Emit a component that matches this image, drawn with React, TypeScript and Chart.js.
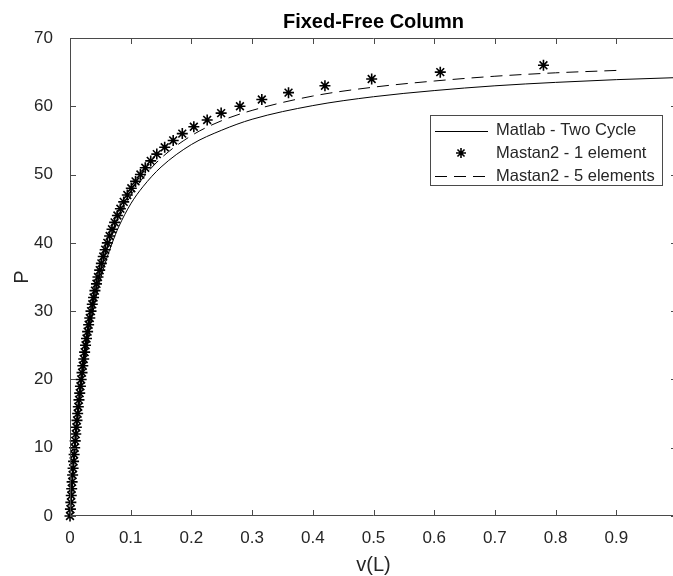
import React, { useEffect, useRef } from 'react';
import { Chart, registerables } from 'chart.js';

Chart.register(...registerables);

// ---------- data ----------
const titleText = 'Fixed-Free Column';
const xAxisLabel = 'v(L)';
const yAxisLabel = 'P';
const seriesNames = ['Matlab - Two Cycle', 'Mastan2 - 1 element', 'Mastan2 - 5 elements'];

// Matlab - Two Cycle (solid line)
const matlabDeflection = [0, 0.002, 0.005, 0.01, 0.015, 0.02, 0.03, 0.04, 0.05, 0.06, 0.07, 0.08, 0.1, 0.12, 0.15, 0.2, 0.25, 0.3, 0.4, 0.5, 0.6, 0.7, 0.8, 0.9, 1.0];
const matlabLoad = [0, 2.7, 6.4, 11.75, 16.2, 20.0, 26.1, 30.8, 34.6, 37.6, 40.1, 42.3, 45.7, 48.2, 51.1, 54.4, 56.5, 58.1, 60.1, 61.4, 62.3, 63.0, 63.5, 63.9, 64.2];

// Mastan2 - 1 element (asterisks)
const oneElemLoad = [0, 1, 2, 3, 4, 5, 6, 7, 8, 9, 10, 11, 12, 13, 14, 15, 16, 17, 18, 19, 20, 21, 22, 23, 24, 25, 26, 27, 28, 29, 30, 31, 32, 33, 34, 35, 36, 37, 38, 39, 40, 41, 42, 43, 44, 45, 46, 47, 48, 49, 50, 51, 52, 53, 54, 55, 56, 57, 58, 59, 60, 61, 62, 63, 64, 65, 66];
const oneElemDeflection = [0, 0.0007, 0.0014, 0.0021, 0.0028, 0.0035, 0.0043, 0.0051, 0.0059, 0.0068, 0.0077, 0.0086, 0.0095, 0.0105, 0.0115, 0.0126, 0.0137, 0.0148, 0.016, 0.0172, 0.0184, 0.0198, 0.0211, 0.0226, 0.0241, 0.0256, 0.0272, 0.029, 0.0307, 0.0326, 0.0346, 0.0367, 0.0388, 0.0411, 0.0436, 0.0461, 0.0489, 0.0517, 0.0548, 0.058, 0.0615, 0.0653, 0.0692, 0.0735, 0.0781, 0.083, 0.0885, 0.0944, 0.101, 0.108, 0.116, 0.124, 0.133, 0.143, 0.156, 0.17, 0.185, 0.204, 0.226, 0.249, 0.28, 0.316, 0.36, 0.42, 0.497, 0.61, 0.78];

// Mastan2 - 5 elements (dashed line)
const fiveElemDeflection = [0, 0.005, 0.01, 0.02, 0.03, 0.04, 0.05, 0.06, 0.08, 0.1, 0.12, 0.15, 0.2, 0.25, 0.3, 0.4, 0.5, 0.6, 0.7, 0.8, 0.9];
const fiveElemLoad = [0, 6.7, 12.2, 20.7, 27.0, 31.8, 35.7, 38.8, 43.5, 46.9, 49.5, 52.4, 55.7, 57.9, 59.4, 61.5, 62.8, 63.7, 64.4, 64.9, 65.25];

const xTickValues = [0, 0.1, 0.2, 0.3, 0.4, 0.5, 0.6, 0.7, 0.8, 0.9, 1];
const xTickLabels = ['0', '0.1', '0.2', '0.3', '0.4', '0.5', '0.6', '0.7', '0.8', '0.9', '1'];
const yTickValues = [0, 10, 20, 30, 40, 50, 60, 70];
const yTickLabels = ['0', '10', '20', '30', '40', '50', '60', '70'];

// ---------- styles ----------
const FONT = '"Liberation Sans", Arial, Helvetica, sans-serif';
const AXIS_COLOR = '#4a4a4a';
const TEXT_COLOR = '#262626';

function drawStar(ctx: CanvasRenderingContext2D, x: number, y: number, r: number) {
  ctx.beginPath();
  ctx.moveTo(x - r, y); ctx.lineTo(x + r, y);
  ctx.moveTo(x, y - r); ctx.lineTo(x, y + r);
  const d = r * Math.SQRT1_2;
  ctx.moveTo(x - d, y - d); ctx.lineTo(x + d, y + d);
  ctx.moveTo(x - d, y + d); ctx.lineTo(x + d, y - d);
  ctx.stroke();
}

const matlabDecor = {
  id: 'matlabDecor',
  afterDatasetsDraw(chart: any) {
    const { ctx, chartArea: a, scales } = chart;
    const tl = 6;
    ctx.save();
    ctx.strokeStyle = AXIS_COLOR;
    ctx.lineWidth = 1;
    ctx.beginPath();
    ctx.rect(a.left + 0.5, a.top + 0.5, a.right - a.left - 1, a.bottom - a.top - 1);
    ctx.stroke();
    ctx.beginPath();
    scales.x.ticks.forEach((t: any) => {
      const px = Math.round(scales.x.getPixelForValue(t.value)) + 0.5;
      ctx.moveTo(px, a.bottom); ctx.lineTo(px, a.bottom - tl);
      ctx.moveTo(px, a.top); ctx.lineTo(px, a.top + tl);
    });
    scales.y.ticks.forEach((t: any) => {
      const py = Math.round(scales.y.getPixelForValue(t.value)) + 0.5;
      ctx.moveTo(a.left, py); ctx.lineTo(a.left + tl, py);
      ctx.moveTo(a.right, py); ctx.lineTo(a.right - tl, py);
    });
    ctx.stroke();

    // title and axis labels
    const cx = (a.left + a.right) / 2;
    ctx.fillStyle = '#000';
    ctx.textAlign = 'center';
    ctx.textBaseline = 'middle';
    ctx.font = `bold 20px ${FONT}`;
    ctx.fillText(titleText, cx, 22);
    ctx.fillStyle = TEXT_COLOR;
    ctx.font = `20px ${FONT}`;
    ctx.fillText(xAxisLabel, cx, 565);
    ctx.save();
    ctx.translate(22, (a.top + a.bottom) / 2);
    ctx.rotate(-Math.PI / 2);
    ctx.fillText(yAxisLabel, 0, 0);
    ctx.restore();

    // legend
    const bx = 430, by = 115, bw = 232, bh = 70;
    ctx.fillStyle = '#fff';
    ctx.fillRect(bx, by, bw, bh);
    ctx.strokeStyle = AXIS_COLOR;
    ctx.strokeRect(bx + 0.5, by + 0.5, bw, bh);
    const rows = [130.5, 153, 176];
    ctx.font = `16.5px ${FONT}`;
    ctx.textAlign = 'left';
    chart.data.datasets.forEach((ds: any, i: number) => {
      const y = rows[i];
      ctx.strokeStyle = '#000';
      if (ds.showLine === false) {
        ctx.lineWidth = 1.6;
        ctx.setLineDash([]);
        drawStar(ctx, 461, y, 5);
      } else {
        ctx.lineWidth = ds.borderWidth;
        ctx.setLineDash(ds.borderDash || []);
        ctx.beginPath();
        ctx.moveTo(435, Math.round(y) + 0.5);
        ctx.lineTo(488, Math.round(y) + 0.5);
        ctx.stroke();
        ctx.setLineDash([]);
      }
      ctx.fillStyle = TEXT_COLOR;
      ctx.fillText(ds.label, 496, y);
    });
    ctx.restore();
  },
};

export default function App() {
  const canvasRef = useRef<HTMLCanvasElement | null>(null);

  useEffect(() => {
    if (!canvasRef.current) return;
    const chart = new Chart(canvasRef.current, {
      type: 'line',
      data: {
        datasets: [
          {
            label: seriesNames[0],
            data: matlabDeflection.map((x, i) => ({ x, y: matlabLoad[i] })),
            borderColor: '#000',
            borderWidth: 1,
            pointRadius: 0,
            cubicInterpolationMode: 'monotone',
            fill: false,
          },
          {
            label: seriesNames[1],
            data: oneElemDeflection.map((x, i) => ({ x, y: oneElemLoad[i] })),
            showLine: false,
            pointStyle: 'star',
            pointRadius: 5.5,
            pointBorderWidth: 1.6,
            pointBorderColor: '#000',
            pointBackgroundColor: '#000',
            borderColor: '#000',
            clip: false,
          },
          {
            label: seriesNames[2],
            data: fiveElemDeflection.map((x, i) => ({ x, y: fiveElemLoad[i] })),
            borderColor: '#000',
            borderWidth: 1,
            borderDash: [12, 7],
            pointRadius: 0,
            cubicInterpolationMode: 'monotone',
            fill: false,
          },
        ],
      } as any,
      options: {
        responsive: false,
        animation: false,
        devicePixelRatio: 1,
        layout: { padding: { top: 38, right: 13, left: 0, bottom: 0 } },
        plugins: {
          legend: { display: false },
          title: { display: false },
          tooltip: { enabled: false },
        },
        scales: {
          x: {
            type: 'linear',
            min: 0,
            max: 1,
            grid: { display: false },
            border: { display: false },
            afterBuildTicks: (s: any) => { s.ticks = xTickValues.map((v) => ({ value: v })); },
            afterFit: (s: any) => { s.height = 60; },
            ticks: {
              autoSkip: false,
              maxRotation: 0,
              padding: 4,
              color: TEXT_COLOR,
              font: { family: FONT, size: 17 },
              callback: (_v: any, i: number) => xTickLabels[i],
            },
          },
          y: {
            type: 'linear',
            min: 0,
            max: 70,
            grid: { display: false },
            border: { display: false },
            afterBuildTicks: (s: any) => { s.ticks = yTickValues.map((v) => ({ value: v })); },
            afterFit: (s: any) => { s.width = 70; },
            ticks: {
              autoSkip: false,
              padding: 9,
              color: TEXT_COLOR,
              font: { family: FONT, size: 17 },
              callback: (_v: any, i: number) => yTickLabels[i],
            },
          },
        },
      } as any,
      plugins: [matlabDecor],
    });
    return () => chart.destroy();
  }, []);

  return (
    <div style={{ position: 'fixed', left: 0, top: 0, width: 673, height: 576, overflow: 'hidden', background: '#fff' }}>
      <canvas ref={canvasRef} width={690} height={576} style={{ width: 690, height: 576, display: 'block' }} />
    </div>
  );
}
